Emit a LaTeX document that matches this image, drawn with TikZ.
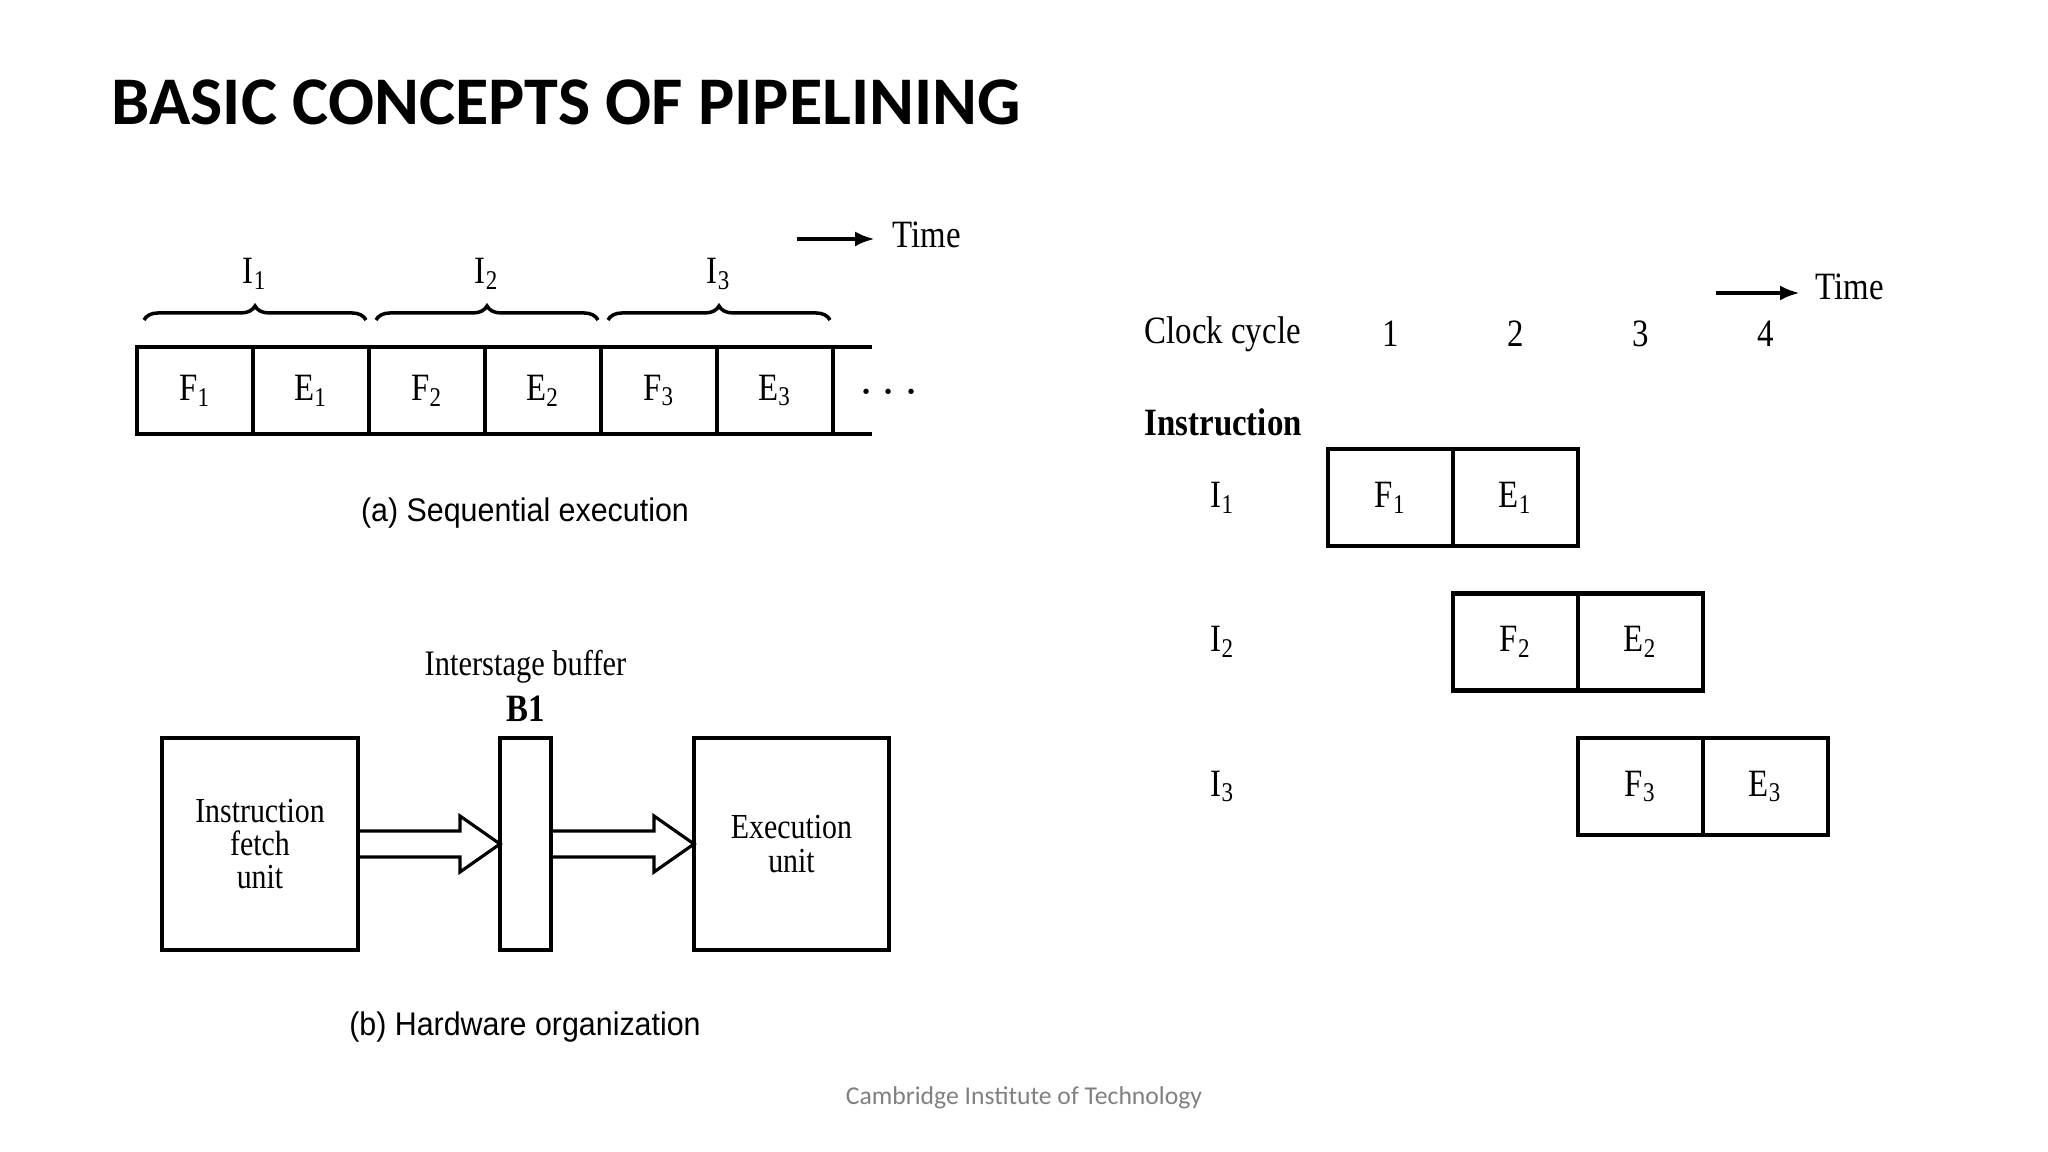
\documentclass[tikz,border=0pt]{standalone}
\usepackage{fontspec}
\setmainfont{Liberation Serif}
\newfontfamily\figfont[FakeStretch=0.85]{Liberation Serif}
\newfontfamily\capfont[FakeStretch=0.93]{Liberation Sans}
\newfontfamily\slidefont{Carlito}
\usetikzlibrary{calc, positioning}
\usetikzlibrary{arrows.meta}
\usetikzlibrary{decorations.pathreplacing}
\definecolor{footgray}{RGB}{128,128,128}

\tikzset{
  figtext/.style={inner sep=0pt, font=\figfont\fontsize{11}{13}\selectfont},
  captext/.style={inner sep=0pt, font=\capfont\fontsize{9.3}{11}\selectfont},
  seqcell/.style={draw, line width=1.3pt, minimum width=11.6mm, minimum height=8.7mm,
    inner sep=0pt, outer sep=0pt, font=\figfont\fontsize{11}{13}\selectfont},
  pipecell/.style={seqcell, minimum width=12.5mm, minimum height=9.7mm},
  unitbox/.style={draw, line width=1.3pt, inner sep=0pt, outer sep=0pt, align=center,
    font=\figfont\fontsize{10}{9.5}\selectfont},
  hollow/.style={line width=0.9pt, line join=miter},
  timearrow/.style={-{Latex[length=2mm,width=1.5mm]}, line width=1.3pt},
  instbrace/.style={decorate, decoration={brace, amplitude=4pt}, line width=1pt}
}

\begin{document}
\begin{tikzpicture}[x=0.1mm, y=0.1mm]
\def\shaft{13}
\def\headw{28}
\def\headl{40}

\useasboundingbox (0,0) rectangle (2048,-1152);

\node[anchor=west, inner sep=0pt] (Title) at (111,-102)
  {\slidefont\bfseries\fontsize{19.4}{23}\selectfont BASIC CONCEPTS OF PIPELINING};
\node[inner sep=0pt] (Footer) at (1024,-1098)
  {\slidefont\fontsize{7.3}{8}\selectfont\color{footgray}Cambridge Institute of Technology};

% (a) sequential
\node[seqcell] (SF1) at (195,-390.5) {F\textsubscript{1}};
\node[seqcell, right=0pt of SF1] (SE1) {E\textsubscript{1}};
\node[seqcell, right=0pt of SE1] (SF2) {F\textsubscript{2}};
\node[seqcell, right=0pt of SF2] (SE2) {E\textsubscript{2}};
\node[seqcell, right=0pt of SE2] (SF3) {F\textsubscript{3}};
\node[seqcell, right=0pt of SF3] (SE3) {E\textsubscript{3}};
\coordinate (SeqEnd) at ($(SE3.east)+(39,0)$);
\draw[line width=1.3pt] (SE3.north east) -- (SE3.north east -| SeqEnd);
\draw[line width=1.3pt] (SE3.south east) -- (SE3.south east -| SeqEnd);
\node[inner sep=0pt, font=\Large] (SeqDots) at (889,-393) {$\cdots$};

\draw[instbrace] ($(SF1.north west)+(7,27)$) -- ($(SE1.north east)+(-3,27)$);
\draw[instbrace] ($(SF2.north west)+(7,27)$) -- ($(SE2.north east)+(-3,27)$);
\draw[instbrace] ($(SF3.north west)+(7,27)$) -- ($(SE3.north east)+(-3,27)$);
\node[figtext] (SI1) at ($(SF1.north east)+(2,73)$) {I\textsubscript{1}};
\node[figtext] (SI2) at ($(SF2.north east)+(2,73)$) {I\textsubscript{2}};
\node[figtext] (SI3) at ($(SF3.north east)+(2,73)$) {I\textsubscript{3}};

\coordinate (TimeA) at (797,-239);
\node[figtext, anchor=west] (TimeAlab) at (892,-235) {Time};
\draw[timearrow, shorten >=1.7mm] (TimeA) -- (TimeA -| TimeAlab.west);

\node[captext] (CapA) at (525,-513) {(a) Sequential execution};

% (b) hardware
\node[unitbox, minimum width=19.6mm, minimum height=21.2mm] (IFU) at (260,-844)
  {Instruction\\fetch\\unit};
\node[unitbox, minimum width=5.1mm, minimum height=21.2mm] (Buf) at (525.5,-844) {};
\node[unitbox, minimum width=19.5mm, minimum height=21.2mm] (EU) at (791.5,-844)
  {Execution\\unit};
\node[figtext] (B1) at ($(Buf.north)+(0,29)$) {\bfseries B1};
\node[figtext, font=\figfont\fontsize{10.2}{12}\selectfont] (BufLab) at ($(Buf.north)+(0,71)$)
  {Interstage buffer};

\draw[hollow] ($(IFU.east)+(0,\shaft)$) -- ($(Buf.west)+(-\headl,\shaft)$)
  -- ($(Buf.west)+(-\headl,\headw)$) -- (Buf.west)
  -- ($(Buf.west)+(-\headl,-\headw)$) -- ($(Buf.west)+(-\headl,-\shaft)$)
  -- ($(IFU.east)+(0,-\shaft)$);
\draw[hollow] ($(Buf.east)+(0,\shaft)$) -- ($(EU.west)+(-\headl,\shaft)$)
  -- ($(EU.west)+(-\headl,\headw)$) -- (EU.west)
  -- ($(EU.west)+(-\headl,-\headw)$) -- ($(EU.west)+(-\headl,-\shaft)$)
  -- ($(Buf.east)+(0,-\shaft)$);

\node[captext] (CapB) at (525,-1027) {(b) Hardware organization};

% pipelined
\node[pipecell] (P1F) at (1390.5,-497.5) {F\textsubscript{1}};
\node[pipecell, right=0pt of P1F] (P1E) {E\textsubscript{1}};
\node[pipecell] (P2F) at ($(P1E)+(0,-144.5)$) {F\textsubscript{2}};
\node[pipecell, right=0pt of P2F] (P2E) {E\textsubscript{2}};
\node[pipecell] (P3F) at ($(P2E)+(0,-144.5)$) {F\textsubscript{3}};
\node[pipecell, right=0pt of P3F] (P3E) {E\textsubscript{3}};

\node[figtext, anchor=west] (Clock) at (1144,-334) {Clock cycle};
\node[figtext] (C1) at (P1F |- Clock) {1};
\node[figtext] (C2) at (P1E |- Clock) {2};
\node[figtext] (C3) at (P2E |- Clock) {3};
\node[figtext] (C4) at (P3E |- Clock) {4};
\node[figtext, anchor=west] (Instr) at (1144,-422) {\bfseries Instruction};
\node[figtext] (R1) at (P1F -| Clock) {I\textsubscript{1}};
\node[figtext] (R2) at (P2F -| Clock) {I\textsubscript{2}};
\node[figtext] (R3) at (P3F -| Clock) {I\textsubscript{3}};

\coordinate (TimeC) at (1716,-293);
\node[figtext, anchor=west] (TimeClab) at (1815,-287) {Time};
\draw[timearrow, shorten >=1.5mm] (TimeC) -- (TimeC -| TimeClab.west);
\end{tikzpicture}
\end{document}
